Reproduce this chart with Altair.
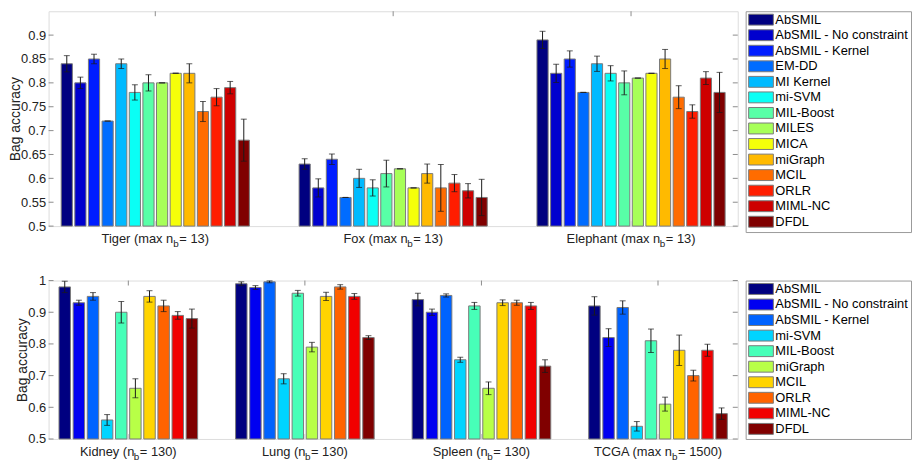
import altair as alt
import pandas as pd

# ---------------- data ----------------
top_groups = ["Tiger", "Fox", "Elephant"]
top_label_parts = [("Tiger (max n", "b", "= 13)"),
                   ("Fox (max n", "b", "= 13)"),
                   ("Elephant (max n", "b", "= 13)")]
top_methods = ["AbSMIL", "AbSMIL - No constraint", "AbSMIL - Kernel", "EM-DD", "MI Kernel",
               "mi-SVM", "MIL-Boost", "MILES", "MICA", "miGraph", "MCIL", "ORLR", "MIML-NC", "DFDL"]
tiger_acc = [0.84, 0.80, 0.85, 0.72, 0.84, 0.78, 0.80, 0.80, 0.82, 0.82, 0.74, 0.77, 0.79, 0.68]
tiger_err = [0.017, 0.012, 0.010, 0.0, 0.010, 0.016, 0.017, 0.0, 0.0, 0.020, 0.021, 0.018, 0.013, 0.044]
fox_acc = [0.63, 0.58, 0.64, 0.56, 0.60, 0.58, 0.61, 0.62, 0.58, 0.61, 0.58, 0.59, 0.574, 0.56]
fox_err = [0.011, 0.019, 0.011, 0.0, 0.019, 0.017, 0.028, 0.0, 0.0, 0.020, 0.049, 0.018, 0.015, 0.038]
elephant_acc = [0.89, 0.82, 0.85, 0.78, 0.84, 0.82, 0.80, 0.81, 0.82, 0.85, 0.77, 0.74, 0.81, 0.78]
elephant_err = [0.018, 0.019, 0.017, 0.0, 0.016, 0.016, 0.025, 0.0, 0.0, 0.020, 0.024, 0.014, 0.0135, 0.042]
top_acc = [tiger_acc, fox_acc, elephant_acc]
top_err = [tiger_err, fox_err, elephant_err]
top_ticks = [0.5, 0.55, 0.6, 0.65, 0.7, 0.75, 0.8, 0.85, 0.9]

bot_groups = ["Kidney", "Lung", "Spleen", "TCGA"]
bot_label_parts = [("Kidney (n", "b", "= 130)"),
                   ("Lung (n", "b", "= 130)"),
                   ("Spleen (n", "b", "= 130)"),
                   ("TCGA (max n", "b", "= 1500)")]
bot_methods = ["AbSMIL", "AbSMIL - No constraint", "AbSMIL - Kernel", "mi-SVM", "MIL-Boost",
               "miGraph", "MCIL", "ORLR", "MIML-NC", "DFDL"]
kidney_acc = [0.98, 0.93, 0.95, 0.56, 0.90, 0.66, 0.95, 0.92, 0.89, 0.88]
kidney_err = [0.018, 0.008, 0.012, 0.017, 0.034, 0.030, 0.018, 0.018, 0.012, 0.030]
lung_acc = [0.99, 0.978, 0.996, 0.69, 0.96, 0.79, 0.95, 0.98, 0.95, 0.82]
lung_err = [0.006, 0.006, 0.003, 0.016, 0.009, 0.015, 0.013, 0.007, 0.009, 0.006]
spleen_acc = [0.94, 0.90, 0.953, 0.75, 0.92, 0.66, 0.93, 0.93, 0.92, 0.73]
spleen_err = [0.020, 0.010, 0.005, 0.008, 0.011, 0.020, 0.009, 0.008, 0.011, 0.020]
tcga_acc = [0.92, 0.82, 0.915, 0.54, 0.81, 0.61, 0.78, 0.70, 0.78, 0.58]
tcga_err = [0.029, 0.028, 0.021, 0.015, 0.037, 0.022, 0.048, 0.017, 0.019, 0.018]
bot_acc = [kidney_acc, lung_acc, spleen_acc, tcga_acc]
bot_err = [kidney_err, lung_err, spleen_err, tcga_err]
bot_ticks = [0.5, 0.6, 0.7, 0.8, 0.9, 1.0]

# jet colormap samples (style)
top_colors = ["#000080", "#0000CE", "#001DFF", "#006CFF", "#00BAFF", "#0AFFF5", "#58FFA7",
              "#A7FF58", "#F5FF0A", "#FFBA00", "#FF6C00", "#FF1D00", "#CE0000", "#800000"]
bot_colors = ["#000080", "#0000F1", "#0063FF", "#00D4FF", "#47FFB8", "#B8FF47", "#FFD400",
              "#FF6300", "#F10000", "#800000"]

FONT = "Liberation Sans"
W = 696
GRAY = "#8c8c8c"
TXT = "#222222"

# Arial / Liberation Sans advance widths (per 1000 em) for label layout
ARIAL = {'T': 611, 'i': 222, 'g': 556, 'e': 556, 'r': 333, ' ': 278, '(': 333, ')': 333,
         'm': 833, 'a': 556, 'x': 500, 'n': 556, '=': 584, 'F': 611, 'o': 556, 'E': 667,
         'l': 222, 'p': 556, 'h': 556, 't': 278, 'K': 667, 'd': 556, 'y': 500, 'L': 556,
         'u': 556, 'S': 667, 'C': 722, 'G': 778, 'A': 667, 'b': 556}


def tw(s, size):
    return sum(ARIAL.get(c, 556) for c in s) * size / 1000.0


LABEL_FS = 13
SUB_FS = 10


def panel(groups, label_parts, methods, colors, accs, errs, ticks, ymax, H,
          pad_inner, pad_outer, off_pad):
    rows = []
    for g, a_list, e_list in zip(groups, accs, errs):
        for m, v, d in zip(methods, a_list, e_list):
            rows.append({"group": g, "method": m, "acc": v, "err": d})
    df = pd.DataFrame(rows)
    base = alt.Chart(df)

    xenc = alt.X("group:N", sort=groups, axis=None,
                 scale=alt.Scale(paddingInner=pad_inner, paddingOuter=pad_outer))
    xoff = alt.XOffset("method:N", sort=methods,
                       scale=alt.Scale(paddingInner=off_pad, paddingOuter=0))
    yscale = alt.Scale(domain=[0.5, ymax], nice=False, zero=False)
    yaxis = alt.Axis(values=ticks, format="~g", title="Bag accuracy",
                     domain=False, ticks=False, grid=False,
                     labelPadding=3, labelFontSize=13, labelColor=TXT,
                     titleFontSize=14, titleFontWeight="normal",
                     titleColor=TXT, titlePadding=-2, labelFont=FONT, titleFont=FONT)

    def Y(field):
        return alt.Y(field, scale=yscale, axis=yaxis, title="Bag accuracy")

    bars = base.mark_bar(stroke="#7a7a7a", strokeWidth=1).encode(
        x=xenc, xOffset=xoff,
        y=Y("acc:Q"),
        y2=alt.datum(0.5),
        color=alt.Color("method:N", sort=methods,
                        scale=alt.Scale(domain=methods, range=colors),
                        legend=alt.Legend(title=None, orient="right", offset=8, padding=2,
                                          strokeColor="#9a9a9a", fillColor="white",
                                          labelFontSize=13, labelColor="black", labelFont=FONT,
                                          labelLimit=0, rowPadding=0.7,
                                          symbolType="M-2.27,-1L2.27,-1L2.27,1L-2.27,1Z",
                                          symbolSize=121, symbolStrokeColor="#7a7a7a",
                                          symbolStrokeWidth=1, symbolOffset=7, labelOffset=8)),
    )

    eb = base.transform_calculate(lo="datum.acc - datum.err", hi="datum.acc + datum.err")
    rules = eb.mark_rule(color="#1a1a1a", strokeWidth=1).encode(
        x=xenc, xOffset=xoff, y=Y("lo:Q"), y2="hi:Q")
    cap_lo = eb.mark_tick(color="#1a1a1a", size=6, thickness=1, orient="horizontal").encode(
        x=xenc, xOffset=xoff, y=Y("lo:Q"))
    cap_hi = eb.mark_tick(color="#1a1a1a", size=6, thickness=1, orient="horizontal").encode(
        x=xenc, xOffset=xoff, y=Y("hi:Q"))

    gdf = pd.DataFrame({"group": groups})
    xt_top = alt.Chart(gdf).mark_rule(color=GRAY, strokeWidth=1).encode(
        x=xenc, y=alt.value(0), y2=alt.value(5))
    xt_bot = alt.Chart(gdf).mark_rule(color="#c8c8c8", strokeWidth=1).encode(
        x=xenc, y=alt.value(H - 5), y2=alt.value(H))

    tdf = pd.DataFrame({"t": ticks})
    yt_left = alt.Chart(tdf).mark_rule(color=GRAY, strokeWidth=1).encode(
        y=Y("t:Q"), x=alt.value(0), x2=alt.value(5))
    yt_right = alt.Chart(tdf).mark_rule(color=GRAY, strokeWidth=1).encode(
        y=Y("t:Q"), x=alt.value(W - 5), x2=alt.value(W))

    texts = []
    for g, (p1, p2, p3) in zip(groups, label_parts):
        w1 = tw(p1, LABEL_FS)
        w2 = tw(p2, SUB_FS)
        w3 = tw(p3, LABEL_FS)
        start = -(w1 + w2 + w3) / 2.0
        one = pd.DataFrame({"group": [g], "p1": [p1], "p2": [p2], "p3": [p3]})
        c = alt.Chart(one)
        texts.append(c.mark_text(align="left", baseline="alphabetic", dx=start,
                                 fontSize=LABEL_FS, font=FONT, color=TXT).encode(
            x=xenc, y=alt.value(H + 17), text="p1:N"))
        texts.append(c.mark_text(align="left", baseline="alphabetic", dx=start + w1 - 0.5,
                                 fontSize=SUB_FS, font=FONT, color=TXT).encode(
            x=xenc, y=alt.value(H + 21.5), text="p2:N"))
        texts.append(c.mark_text(align="left", baseline="alphabetic", dx=start + w1 + w2,
                                 fontSize=LABEL_FS, font=FONT, color=TXT).encode(
            x=xenc, y=alt.value(H + 17), text="p3:N"))

    return alt.layer(bars, xt_bot, rules, cap_lo, cap_hi, xt_top, yt_left, yt_right,
                     *texts).properties(width=W, height=H)


top = panel(top_groups, top_label_parts, top_methods, top_colors, top_acc, top_err,
            top_ticks, 0.95, 217, 0.209, 0.053, 0.18)
bottom = panel(bot_groups, bot_label_parts, bot_methods, bot_colors, bot_acc, bot_err,
               bot_ticks, 1.0, 160, 0.215, 0.059, 0.19)

chart = alt.vconcat(top, bottom, spacing=24).resolve_scale(
    x="independent", xOffset="independent", y="independent", color="independent"
).properties(
    padding={"left": 0, "top": 0, "right": 0, "bottom": 0}
).configure_view(
    stroke=GRAY, strokeWidth=1
).configure(
    font=FONT, background="white"
)

chart.save("out.html", embed_options={"renderer": "svg", "actions": False})
